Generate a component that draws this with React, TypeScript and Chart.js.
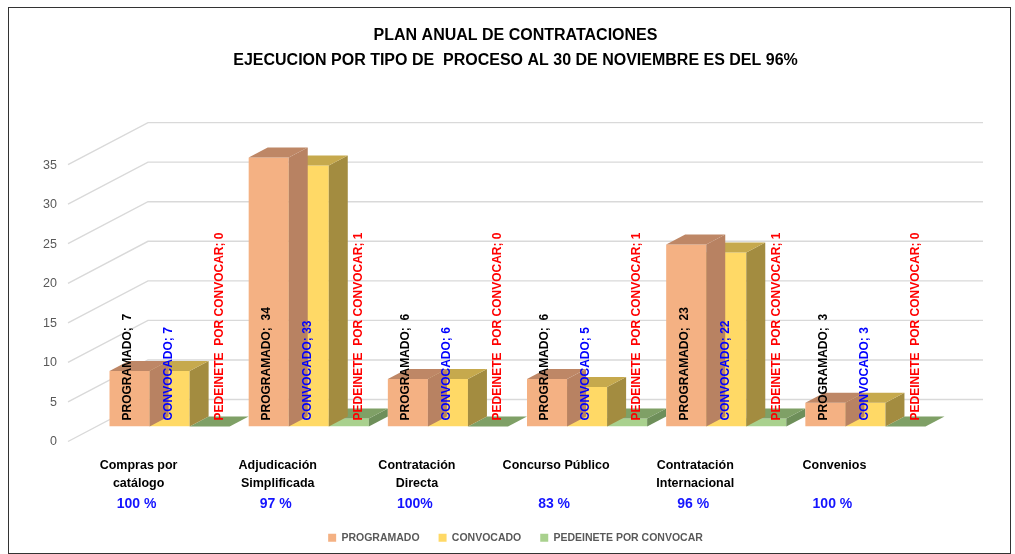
import React, { useEffect, useRef } from "react";
import { Chart, registerables } from "chart.js";

Chart.register(...registerables);

const titleLines = [
  "PLAN ANUAL DE CONTRATACIONES",
  "EJECUCION POR TIPO DE  PROCESO AL 30 DE NOVIEMBRE ES DEL 96%",
];
const categories = [
  ["Compras por", "catálogo"],
  ["Adjudicación", "Simplificada"],
  ["Contratación", "Directa"],
  ["Concurso Público"],
  ["Contratación", "Internacional"],
  ["Convenios"],
];
const seriesNames = ["PROGRAMADO", "CONVOCADO", "PEDEINETE POR CONVOCAR"];
const labelPrefixes = ["PROGRAMADO;  ", "CONVOCADO; ", "PEDEINETE  POR CONVOCAR; "];
const programado = [7, 34, 6, 6, 23, 3];
const convocado = [7, 33, 6, 5, 22, 3];
const pendiente = [0, 1, 0, 1, 1, 0];
const percentages = ["100 %", "97 %", "100%", "83 %", "96 %", "100 %"];
const yTicks = [0, 5, 10, 15, 20, 25, 30, 35];

const FONT = "'Liberation Sans', Arial, sans-serif";
const frontColors = ["#F4B183", "#FFD966", "#A9D18E"];
const topColors = ["#BE8766", "#C6A94D", "#7FA066"];
const sideColors = ["#B88262", "#A38C40", "#6E8F5A"];
const labelColors = ["#000000", "#0000FF", "#FF0000"];
const labelDx = [-2, -1, 10];
const DX = 19;
const DY = 10;

const threeD = {
  id: "threeD",
  beforeDatasetsDraw(chart: any) {
    const { ctx, chartArea } = chart;
    const y = chart.scales.y;
    ctx.save();
    ctx.strokeStyle = "#D9D9D9";
    ctx.lineWidth = 1.4;
    for (const v of yTicks) {
      const py = y.getPixelForValue(v);
      ctx.beginPath();
      ctx.moveTo(chartArea.left - 32, py + 15);
      ctx.lineTo(chartArea.left + 48, py - 27);
      ctx.lineTo(chartArea.right + 48, py - 27);
      ctx.stroke();
    }
    ctx.restore();
  },
  afterDatasetDraw(chart: any, args: any) {
    const { ctx } = chart;
    const i = args.index;
    ctx.save();
    for (const el of args.meta.data) {
      const { x, y, base, width } = el.getProps(["x", "y", "base", "width"], true);
      const l = x - width / 2;
      const r = x + width / 2;
      ctx.fillStyle = sideColors[i];
      ctx.beginPath();
      ctx.moveTo(r, y);
      ctx.lineTo(r + DX, y - DY);
      ctx.lineTo(r + DX, base - DY);
      ctx.lineTo(r, base);
      ctx.closePath();
      ctx.fill();
      ctx.fillStyle = topColors[i];
      ctx.beginPath();
      ctx.moveTo(l, y);
      ctx.lineTo(l + DX, y - DY);
      ctx.lineTo(r + DX, y - DY);
      ctx.lineTo(r, y);
      ctx.closePath();
      ctx.fill();
    }
    ctx.restore();
  },
  afterDatasetsDraw(chart: any) {
    const { ctx } = chart;
    ctx.save();
    ctx.font = `bold 12px ${FONT}`;
    ctx.textAlign = "left";
    ctx.textBaseline = "middle";
    chart.data.datasets.forEach((ds: any, i: number) => {
      const meta = chart.getDatasetMeta(i);
      meta.data.forEach((el: any, j: number) => {
        const { x, base } = el.getProps(["x", "base"], true);
        ctx.save();
        ctx.translate(x + labelDx[i], base - 6);
        ctx.rotate(-Math.PI / 2);
        ctx.fillStyle = labelColors[i];
        ctx.fillText(labelPrefixes[i] + ds.data[j], 0, 0);
        ctx.restore();
      });
    });
    ctx.restore();
  },
  afterDraw(chart: any) {
    const { ctx } = chart;
    const xs = chart.scales.x;
    ctx.save();
    ctx.font = `bold 14px ${FONT}`;
    ctx.textAlign = "center";
    ctx.textBaseline = "middle";
    ctx.fillStyle = "#1414FF";
    percentages.forEach((p, j) => {
      ctx.fillText(p, xs.getPixelForValue(j) - 33, 504);
    });
    ctx.restore();
  },
};

export default function App() {
  const ref = useRef<HTMLCanvasElement>(null);
  useEffect(() => {
    Chart.defaults.font.family = FONT;
    const chart = new Chart(ref.current as HTMLCanvasElement, {
      type: "bar",
      data: {
        labels: categories,
        datasets: [
          { label: seriesNames[0], data: programado, backgroundColor: frontColors[0] },
          { label: seriesNames[1], data: convocado, backgroundColor: frontColors[1] },
          { label: seriesNames[2], data: pendiente, backgroundColor: frontColors[2] },
        ],
      },
      options: {
        animation: false,
        responsive: false,
        layout: { padding: { left: 16, right: 0, top: 0, bottom: 1 } },
        datasets: { bar: { categoryPercentage: 120 / 139, barPercentage: 1 } } as any,
        plugins: {
          title: {
            display: true,
            text: titleLines,
            color: "#000000",
            font: { family: FONT, size: 16, weight: "bold", lineHeight: 1.55 },
            padding: { top: 23, bottom: 77 },
          },
          legend: {
            position: "bottom",
            labels: {
              boxWidth: 8,
              boxHeight: 8,
              padding: 19,
              color: "#595959",
              font: { family: FONT, size: 10.5, weight: "bold" },
            },
          },
          tooltip: { enabled: false },
        },
        scales: {
          x: {
            grid: { display: false, drawTicks: false },
            border: { display: false },
            ticks: {
              autoSkip: false,
              maxRotation: 0,
              padding: 30,
              labelOffset: -31,
              color: "#000000",
              font: { family: FONT, size: 12.5, weight: "bold", lineHeight: 1.44 },
            },
            afterFit: (s: any) => {
              s.height = 87;
            },
          },
          y: {
            min: 0,
            max: 35,
            grid: { display: false, drawTicks: false },
            border: { display: false },
            ticks: {
              stepSize: 5,
              padding: 43,
              labelOffset: 15.5,
              color: "#595959",
              font: { family: FONT, size: 12.5 },
            },
            afterFit: (s: any) => {
              s.width = 84;
            },
          },
          yR: {
            position: "right",
            grid: { display: false, drawTicks: false },
            border: { display: false },
            ticks: { display: false },
            afterFit: (s: any) => {
              s.width = 80;
            },
          },
        },
      },
      plugins: [threeD],
    });
    return () => chart.destroy();
  }, []);
  return (
    <div style={{ position: "fixed", left: 0, top: 0, width: 1015, height: 554, background: "#ffffff" }}>
      <canvas ref={ref} width={1015} height={554} style={{ display: "block", width: 1015, height: 554 }} />
      <div
        style={{
          position: "absolute",
          left: 8,
          top: 7,
          width: 1001,
          height: 545,
          border: "1px solid #333333",
          pointerEvents: "none",
        }}
      />
    </div>
  );
}
